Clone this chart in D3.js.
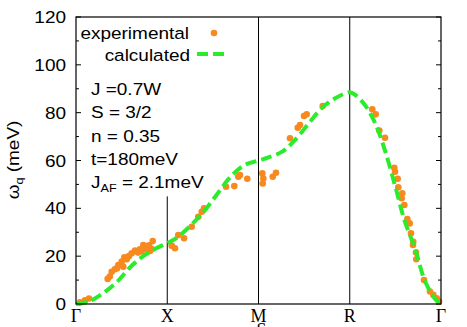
<!DOCTYPE html>
<html>
<head>
<meta charset="utf-8">
<script src="https://cdn.jsdelivr.net/npm/d3@7/dist/d3.min.js"></script>
<style>
body { margin: 0; background: #fff; }
svg text { font-family: "Liberation Sans", Arial, sans-serif; fill: #000; }
</style>
</head>
<body>
<svg width="467" height="327"></svg>
<script>
// calculated dispersion (dashed green)
var calcQ = [0, 0.15, 0.3, 0.45, 0.6, 0.73, 0.88, 1.0, 1.1, 1.25, 1.4, 1.54, 1.69, 1.84, 2.0,
	2.11, 2.26, 2.4, 2.55, 2.69, 2.84, 3.0, 3.06, 3.17, 3.28, 3.39, 3.5, 3.6, 3.72, 3.82, 3.93, 4.0];
var calcW = [0, 1.2, 4.6, 9.3, 15.6, 19.8, 23.3, 25.5, 27.5, 32.6, 38.6, 45.6, 53, 58, 60,
	61.3, 63.7, 68.6, 75.5, 81.8, 86, 88.5, 87.4, 83, 75.5, 63.7, 49, 35, 22.6, 10, 2.4, 0];

// experimental points (orange)
var expQ = [0.044, 0.099, 0.142, 0.347, 0.37, 0.391, 0.427, 0.45, 0.464, 0.501, 0.518, 0.53, 0.556, 0.58,
	0.61, 0.647, 0.68, 0.701, 0.72, 0.738, 0.756, 0.781, 0.8, 0.811, 0.83, 0.841,
	1.049, 1.085, 1.121, 1.184, 1.268, 1.34, 1.378, 1.403, 1.644, 1.735, 1.779, 1.797, 1.877,
	2.042, 2.046, 2.053, 2.156, 2.192,
	2.345, 2.43, 2.455, 2.499, 2.528, 2.704,
	3.247, 3.284, 3.324, 3.386, 3.488, 3.496, 3.525, 3.532, 3.576, 3.569, 3.598, 3.631, 3.657,
	3.671, 3.696, 3.693, 3.726, 3.729, 3.814, 3.879, 3.916, 3.953, 3.978];
var expW = [0.7, 1.5, 2.3, 10.5, 11.5, 13.5, 14.5, 15, 16.3, 17.7, 15.6, 19.5, 18.7, 20,
	21.2, 22.3, 21.5, 22.9, 22, 24.7, 23.5, 22.9, 24.5, 22.2, 23, 26.3,
	24.4, 23.3, 28.8, 27.5, 32.3, 36.5, 38.6, 40, 49, 49.3, 53.2, 53.9, 52.4,
	54.6, 50.4, 52.5, 53.2, 54.9,
	69.3, 73.7, 74.8, 78.6, 79.3, 82.8,
	81.4, 79.3, 72.5, 69.5, 57, 55.3, 52.4, 48.8, 46.3, 44.2, 41.4, 35.5, 33.7,
	29.6, 26, 24.7, 21.5, 18.7, 10, 5.2, 3.8, 2.4, 1];

var symLabels = ["\u0393", "X", "M", "R", "\u0393"];
var symLineQ = [1, 2, 3];
var symLineTop = [45, 120, 120];
var yMajor = [0, 20, 40, 60, 80, 100, 120];
var yMinor = [10, 30, 50, 70, 90, 110];
var paramLines = ["J =0.7W", "S = 3/2", "n = 0.35", "t=180meV"];

var margin = {top: 17, right: 26, bottom: 23, left: 76};
var width = 467 - margin.left - margin.right,
	height = 327 - margin.top - margin.bottom;

var orange = "#f7891f";
var green = "#2aec2a";

var svg = d3.select("svg");
var chart = svg.append("g")
	.attr("transform", "translate(" + margin.left + "," + margin.top + ")");

var x = d3.scaleLinear().domain([0, 4]).range([0, width]);
var y = d3.scaleLinear().domain([0, 120]).range([height, 0]);

// sans text is a bit wider than Arial in the original
function sansText(g, px, py, str, anchor) {
	return g.append("text")
		.attr("transform", "translate(" + px + "," + py + ") scale(1.15,1)")
		.attr("text-anchor", anchor)
		.style("font-size", "16.5px")
		.text(str);
}

// y ticks, both sides, pointing in
chart.selectAll(".major").data(yMajor).enter().append("path")
	.attr("d", function(d) {
		return "M0," + y(d) + "h5M" + width + "," + y(d) + "h-5";
	})
	.attr("stroke", "#000").attr("stroke-width", 1);
chart.selectAll(".minor").data(yMinor).enter().append("path")
	.attr("d", function(d) {
		return "M0," + y(d) + "h3M" + width + "," + y(d) + "h-3";
	})
	.attr("stroke", "#000").attr("stroke-width", 1);

yMajor.forEach(function(d) {
	sansText(chart, -10, y(d) + 6, d, "end");
});

// x labels
chart.selectAll(".xlab").data(symLabels).enter().append("text")
	.attr("x", function(d, i) { return x(i); })
	.attr("y", height + 18)
	.attr("text-anchor", "middle")
	.style("font-family", "'Liberation Serif', 'Times New Roman', serif")
	.style("font-size", "18px")
	.text(function(d) { return d; });

// x axis title, only its top shows above the bottom edge
chart.append("text")
	.attr("x", x(2) + 3)
	.attr("y", height + 32)
	.attr("text-anchor", "middle")
	.style("font-family", "'Liberation Serif', 'Times New Roman', serif")
	.style("font-size", "18px")
	.text("S");

// symmetry point lines
chart.selectAll(".sym").data(symLineQ).enter().append("line")
	.attr("x1", function(d) { return x(d); })
	.attr("x2", function(d) { return x(d); })
	.attr("y1", y(0))
	.attr("y2", function(d, i) { return y(symLineTop[i]); })
	.attr("stroke", "#000").attr("stroke-width", 1);

// experimental
var expData = expQ.map(function(q, i) { return {q: q, w: expW[i]}; });
chart.selectAll(".dot").data(expData).enter().append("circle")
	.attr("cx", function(d) { return x(d.q); })
	.attr("cy", function(d) { return y(d.w); })
	.attr("r", 3.3)
	.attr("fill", orange);

// calculated
var calcData = calcQ.map(function(q, i) { return {q: q, w: calcW[i]}; });
var valueLine = d3.line()
	.x(function(d) { return x(d.q); })
	.y(function(d) { return y(d.w); })
	.curve(d3.curveCatmullRom);
chart.append("path")
	.datum(calcData)
	.attr("d", valueLine)
	.attr("fill", "none")
	.attr("stroke", green)
	.attr("stroke-width", 4)
	.attr("stroke-dasharray", "11,5");

// frame
chart.append("rect")
	.attr("width", width).attr("height", height)
	.attr("fill", "none").attr("stroke", "#000").attr("stroke-width", 1.2);

// legend
sansText(chart, 113, 22, "experimental", "end");
chart.append("circle").attr("cx", 138).attr("cy", 16).attr("r", 3.3).attr("fill", orange);
sansText(chart, 114, 44, "calculated", "end");
chart.append("line")
	.attr("x1", 121).attr("x2", 152).attr("y1", 37).attr("y2", 37)
	.attr("stroke", green).attr("stroke-width", 4)
	.attr("stroke-dasharray", "11,5");

// parameters
paramLines.forEach(function(s, i) {
	sansText(chart, 15, 78 + i * 23.3, s, "start");
});
var jaf = chart.append("text")
	.attr("transform", "translate(15," + (78 + 4 * 23.3) + ") scale(1.15,1)")
	.style("font-size", "16.5px");
jaf.append("tspan").text("J");
jaf.append("tspan").attr("dy", 4).style("font-size", "11px").text("AF");
jaf.append("tspan").attr("dy", -4).text(" = 2.1meV");

// y title
var ytitle = svg.append("text")
	.attr("transform", "translate(19,160) rotate(-90) scale(1.15,1)")
	.attr("text-anchor", "middle")
	.style("font-size", "16.5px");
ytitle.append("tspan").text("\u03c9");
ytitle.append("tspan").attr("dy", 4).style("font-size", "11px").text("q");
ytitle.append("tspan").attr("dy", -4).text(" (meV)");
</script>
</body>
</html>
